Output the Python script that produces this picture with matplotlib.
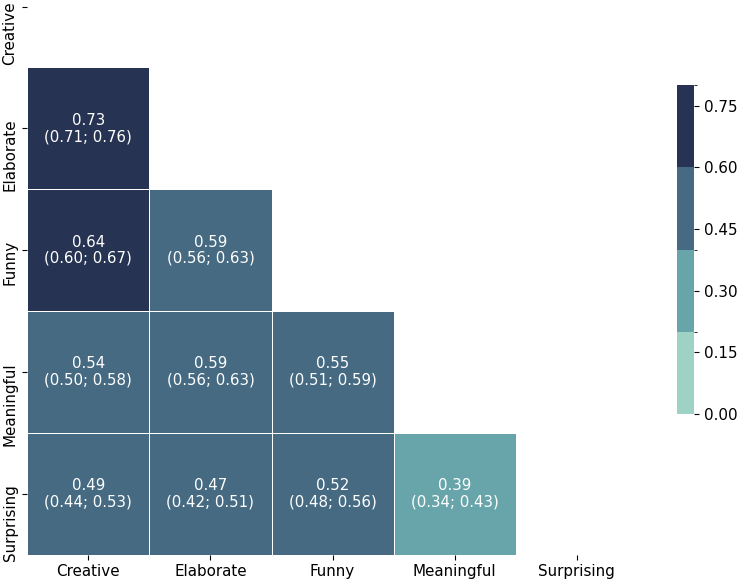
import numpy as np
import matplotlib
matplotlib.use("Agg")
import matplotlib.pyplot as plt
import matplotlib.transforms as mtransforms
from matplotlib.colors import ListedColormap, BoundaryNorm

labels = ["Creative", "Elaborate", "Funny", "Meaningful", "Surprising"]
# lower-triangle correlations (row, col) with CI
corr = np.array([
    [np.nan, np.nan, np.nan, np.nan, np.nan],
    [0.73, np.nan, np.nan, np.nan, np.nan],
    [0.64, 0.59, np.nan, np.nan, np.nan],
    [0.54, 0.59, 0.55, np.nan, np.nan],
    [0.49, 0.47, 0.52, 0.39, np.nan],
])
ci_low = np.array([
    [np.nan, np.nan, np.nan, np.nan, np.nan],
    [0.71, np.nan, np.nan, np.nan, np.nan],
    [0.60, 0.56, np.nan, np.nan, np.nan],
    [0.50, 0.56, 0.51, np.nan, np.nan],
    [0.44, 0.42, 0.48, 0.34, np.nan],
])
ci_high = np.array([
    [np.nan, np.nan, np.nan, np.nan, np.nan],
    [0.76, np.nan, np.nan, np.nan, np.nan],
    [0.67, 0.63, np.nan, np.nan, np.nan],
    [0.58, 0.63, 0.59, np.nan, np.nan],
    [0.53, 0.51, 0.56, 0.43, np.nan],
])
cbar_ticks = [0.00, 0.15, 0.30, 0.45, 0.60, 0.75]

colors = ["#9dd2c5", "#68a5aa", "#456a82", "#263352"]
cmap = ListedColormap(colors)
norm = BoundaryNorm([0.0, 0.2, 0.4, 0.6, 0.8], cmap.N)

fig = plt.figure(figsize=(7.39, 5.82), dpi=100)
ax = fig.add_axes([27.3 / 739, 1 - 554.7 / 582, 610.5 / 739, 609 / 582])
n = len(labels)
data = np.ma.masked_invalid(corr)
mesh = ax.pcolormesh(np.arange(n + 1), np.arange(n + 1), data, cmap=cmap, norm=norm,
                     edgecolors="white", linewidth=0.6)
ax.set_xlim(0, n)
ax.set_ylim(n, 0)
for i in range(n):
    for j in range(n):
        if not np.isnan(corr[i, j]):
            ax.text(j + 0.5, i + 0.5, f"{corr[i, j]:.2f}\n({ci_low[i, j]:.2f}; {ci_high[i, j]:.2f})",
                    ha="center", va="center", color="white", fontsize=10.8, linespacing=1.1)
for s in ax.spines.values():
    s.set_visible(False)
ax.set_xticks(np.arange(n) + 0.5)
ax.set_xticklabels(labels, fontsize=10.9)
ax.set_yticks(np.arange(n) + 0.5)
ax.set_yticklabels(labels, fontsize=10.9, rotation=90, va="top")
ax.tick_params(length=3.5, width=0.8)
for k, lab in enumerate(ax.get_yticklabels()):
    dy = 0.05 if k == 0 else 0.10
    lab.set_transform(lab.get_transform() + mtransforms.ScaledTranslation(0, dy, fig.dpi_scale_trans))

cax = fig.add_axes([677 / 739, 1 - 414 / 582, 17 / 739, 329 / 582])
cb = fig.colorbar(mesh, cax=cax, ticks=cbar_ticks)
cb.outline.set_visible(False)
cb.ax.set_yticklabels([f"{t:.2f}" for t in cbar_ticks])
cb.ax.tick_params(labelsize=10.9, length=3.5, width=0.8)

fig.savefig("out.png", dpi=100)
